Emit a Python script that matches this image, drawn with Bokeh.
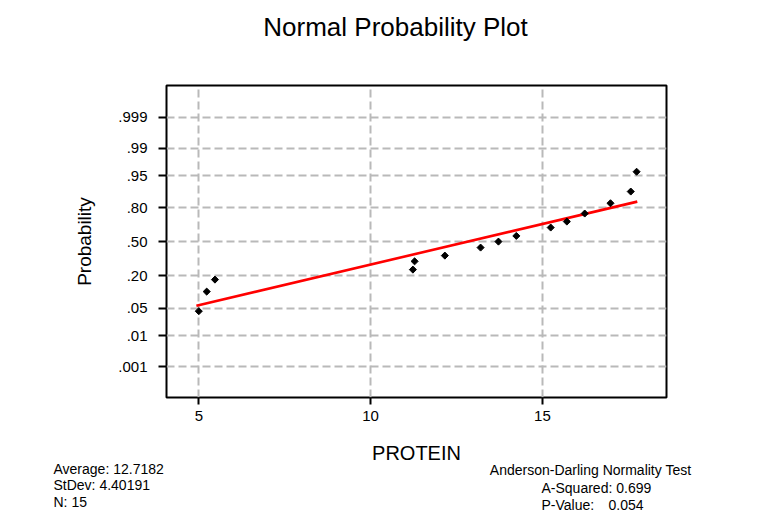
from statistics import NormalDist
from bokeh.plotting import figure
from bokeh.layouts import column
from bokeh.models import FixedTicker, Label, ColumnDataSource, Range1d
from bokeh.embed import file_html
from bokeh.resources import INLINE

# ---- data ----
protein = [5.00, 5.23, 5.47, 11.23, 11.28, 12.16, 13.20, 13.72, 14.24,
           15.24, 15.71, 16.23, 16.98, 17.57, 17.74]
probability = [0.043, 0.109, 0.175, 0.246, 0.315, 0.367, 0.444, 0.503,
               0.559, 0.639, 0.693, 0.759, 0.831, 0.894, 0.959]
fit_x = [4.93, 17.76]
fit_p = [0.057, 0.841]
x_ticks = [5, 10, 15]
prob_ticks = [0.001, 0.01, 0.05, 0.20, 0.50, 0.80, 0.95, 0.99, 0.999]
prob_tick_labels = [".001", ".01", ".05", ".20", ".50", ".80", ".95", ".99", ".999"]
title_text = "Normal Probability Plot"
x_label = "PROTEIN"
y_label = "Probability"
stats_left = ["Average: 12.7182", "StDev: 4.40191", "N: 15"]
ad_title = "Anderson-Darling Normality Test"
ad_sq = "A-Squared: 0.699"
ad_p_name = "P-Value:"
ad_p_val = "0.054"

nd = NormalDist()
def z(p):
    return round(nd.inv_cdf(p), 4)

FONT = "Liberation Sans"
W = 767
TOP_H = 50
MAIN_H = 390
BOT_H = 78


def text_strip(height, y0):
    f = figure(width=W, height=height, x_range=Range1d(0, W),
               y_range=Range1d(y0 + height, y0), output_backend="svg",
               toolbar_location=None, min_border=0,
               x_axis_location=None, y_axis_location=None,
               background_fill_color="white", border_fill_color="white")
    f.frame_align = False
    f.grid.visible = False
    f.outline_line_color = None
    return f


def lab(fig, text, x, y, size="14px", align="left"):
    fig.add_layout(Label(x=x, y=y, text=text, text_font=FONT, text_font_size=size,
                         text_color="black", text_align=align,
                         text_baseline="alphabetic"))


# ---- top strip: title ----
top = text_strip(TOP_H, 0)
lab(top, title_text, 395, 26, size="26px", align="center")

# ---- main plot ----
p = figure(width=W, height=MAIN_H, x_range=(4.06, 18.61), y_range=(-3.857, 3.877),
           output_backend="svg", toolbar_location=None,
           min_border_left=166, min_border_right=101, min_border_top=35,
           min_border_bottom=MAIN_H - 35 - 312,
           background_fill_color="white", border_fill_color="white")
p.frame_align = False

p.outline_line_color = "black"
p.outline_line_width = 2
p.outline_line_alpha = 1

for g in (p.xgrid, p.ygrid):
    g.grid_line_color = "#b9b9b9"
    g.grid_line_width = 2
    g.grid_line_dash = "8 4"

p.xaxis.ticker = FixedTicker(ticks=x_ticks)
yt = [z(v) for v in prob_ticks]
p.yaxis.ticker = FixedTicker(ticks=yt)
p.yaxis.major_label_overrides = {t: l for t, l in zip(yt, prob_tick_labels)}

for ax in (p.xaxis[0], p.yaxis[0]):
    ax.axis_line_color = None
    ax.major_tick_line_color = "black"
    ax.major_tick_line_width = 2
    ax.major_tick_in = 0
    ax.minor_tick_line_color = None
    ax.major_label_text_font = FONT
    ax.major_label_text_font_size = "15px"
    ax.major_label_text_color = "black"
    ax.axis_label_text_font = FONT
    ax.axis_label_text_font_size = "19px"
    ax.axis_label_text_font_style = "normal"
    ax.axis_label_text_color = "black"

p.xaxis.major_tick_out = 7
p.xaxis.major_label_standoff = 6

p.yaxis.major_tick_out = 8
p.yaxis.major_label_standoff = 11
p.yaxis.axis_label = y_label
p.yaxis.axis_label_standoff = 20

p.line(x=fit_x, y=[z(v) for v in fit_p], line_color="#ff0000", line_width=2.6)

src = ColumnDataSource(dict(x=protein, y=[z(v) for v in probability]))
p.scatter("x", "y", source=src, marker="square", angle=0.785398, size=5,
          fill_color="black", line_color="black", line_width=1)

# ---- bottom strip: x-axis title and statistics ----
y0 = TOP_H + MAIN_H
bot = text_strip(BOT_H, y0)
lab(bot, x_label, 416, 452.5, size="20px", align="center")
lab(bot, stats_left[0], 53, 468)
lab(bot, stats_left[1], 53, 484.5)
lab(bot, stats_left[2], 53, 501)
lab(bot, ad_title, 489.3, 469.5)
lab(bot, ad_sq, 541, 487)
lab(bot, ad_p_name, 541, 504.5)
lab(bot, ad_p_val, 643, 504.5, align="right")

layout = column(top, p, bot, spacing=0)
open("out.html", "w").write(file_html(layout, INLINE))
